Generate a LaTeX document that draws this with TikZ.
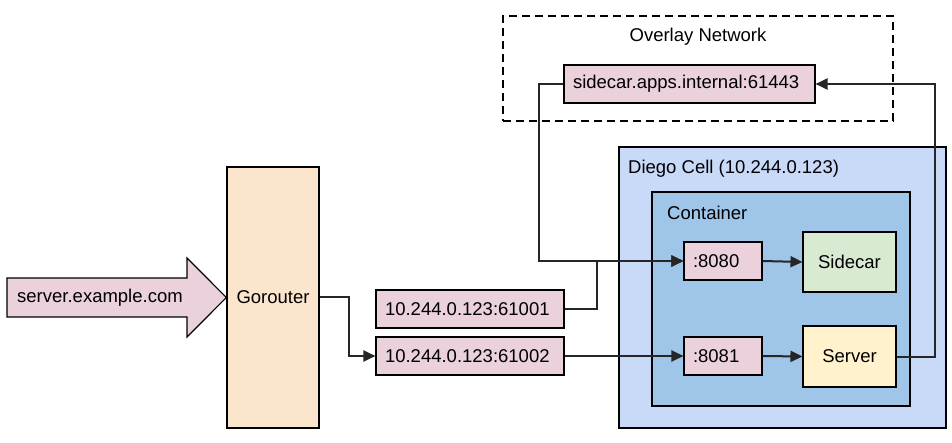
\documentclass[tikz,border=0pt]{standalone}
\usepackage{fontspec}
\setmainfont{Liberation Sans}
\usepackage{tikz}
\usepackage{xcolor}
\usetikzlibrary{arrows.meta}

\definecolor{addrpink}{HTML}{EAD1DC}
\definecolor{routerorange}{HTML}{FCE5CD}
\definecolor{cellblue}{HTML}{C9DAF8}
\definecolor{containerblue}{HTML}{9FC5E8}
\definecolor{sidecargreen}{HTML}{D9EAD3}
\definecolor{serveryellow}{HTML}{FFF2CC}

\begin{document}
\begin{tikzpicture}[x=1pt,y=-1pt,
    every node/.style={font=\fontsize{18.5}{22}\selectfont,inner sep=0pt},
    box/.style={draw,line width=1.1pt},
    addr/.style={box,fill=addrpink,minimum height=38pt,align=left,inner xsep=9pt,text width=#1},
    conn/.style={line width=2pt,draw=black!85,-{Triangle[length=12pt,width=11pt]}}]
    \useasboundingbox (0,0) rectangle (952,443);

    % overlay network
    \node[draw,line width=2pt,dash pattern=on 8pt off 5pt,minimum width=390pt,minimum height=105pt] (overlay) at (698,68.5) {};
    \node (overlaylabel) at (698,37) {Overlay Network};
    \node[addr=233pt] (internal) at (689.5,84) {sidecar.apps.internal:61443};

    % diego cell and container
    \node[box,fill=cellblue,minimum width=327pt,minimum height=281pt] (cell) at (782.5,287.5) {};
    \node[anchor=west] (celllabel) at (628,169) {Diego Cell (10.244.0.123)};
    \node[box,fill=containerblue,minimum width=258pt,minimum height=214pt] (container) at (781,299) {};
    \node[anchor=west] (containerlabel) at (667,213) {Container};
    \node[addr=60pt] (p8080) at (723,261) {:8080};
    \node[addr=60pt] (p8081) at (723,356) {:8081};
    \node[box,fill=sidecargreen,minimum width=93pt,minimum height=60pt] (sidecar) at (849.5,262) {Sidecar};
    \node[box,fill=serveryellow,minimum width=93pt,minimum height=61pt] (server) at (849.5,356.5) {Server};

    % router side
    \node[box,fill=routerorange,minimum width=92pt,minimum height=261pt] (gorouter) at (273,297.5) {Gorouter};
    \draw[box,fill=addrpink] (7,278) -- (187,278) -- (187,258) -- (gorouter.west) -- (187,337) -- (187,317) -- (7,317) -- cycle;
    \node[anchor=west] (url) at (17,298) {server.example.com};
    \node[addr=170pt] (ip1) at (470,309) {10.244.0.123:61001};
    \node[addr=170pt] (ip2) at (470,356) {10.244.0.123:61002};

    % connectors
    \draw[conn] (gorouter.east) -- ++(29,0) |- (ip2.west);
    \draw[conn] (ip1.east) -- ++(32,0) |- (p8080.west);
    \draw[conn] (internal.west) -- ++(-24,0) |- (p8080.west);
    \draw[conn] (ip2.east) -- (p8081.west);
    \draw[conn] (p8080.east) -- (sidecar.west);
    \draw[conn] (p8081.east) -- (server.west);
    \draw[conn] (server.east) -- ++(38,0) |- (internal.east);
\end{tikzpicture}
\end{document}
